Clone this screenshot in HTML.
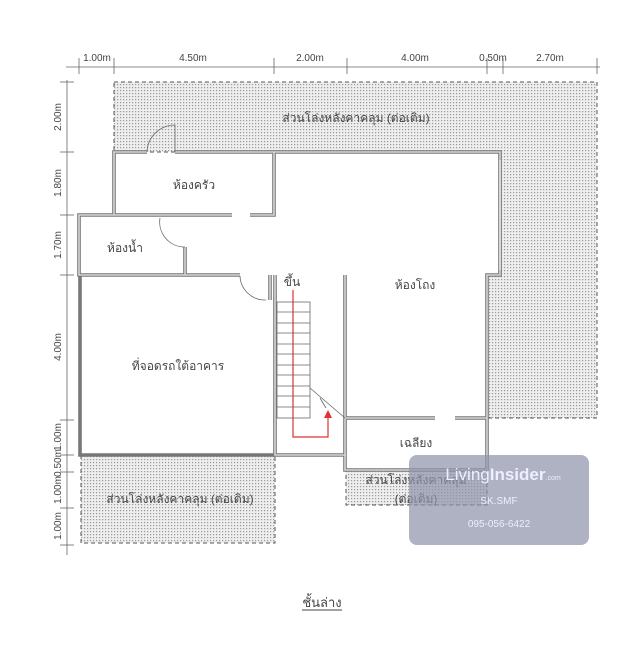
<!DOCTYPE html><html><head><style>body{margin:0;background:#fff}svg{display:block}text{font-family:"Liberation Sans",sans-serif;fill:#444}</style></head><body>
<svg width="639" height="645" viewBox="0 0 639 645" xmlns="http://www.w3.org/2000/svg">
<defs><pattern id="d" width="3" height="3" patternUnits="userSpaceOnUse"><rect width="3" height="3" fill="#eee"/><rect width="1.2" height="1.2" fill="#999"/></pattern></defs>
<g stroke="#666" stroke-width="0.8" fill="none">
<line x1="66" y1="67" x2="600" y2="67"/>
<line x1="79" y1="58" x2="79" y2="74"/><line x1="114" y1="58" x2="114" y2="74"/><line x1="274" y1="58" x2="274" y2="74"/><line x1="347" y1="58" x2="347" y2="74"/><line x1="487" y1="58" x2="487" y2="74"/><line x1="503" y1="58" x2="503" y2="74"/><line x1="597" y1="58" x2="597" y2="74"/>
<line x1="67" y1="80" x2="67" y2="555"/>
<line x1="60" y1="82" x2="74" y2="82"/><line x1="60" y1="152" x2="74" y2="152"/><line x1="60" y1="215" x2="74" y2="215"/><line x1="60" y1="275" x2="74" y2="275"/><line x1="60" y1="420" x2="74" y2="420"/><line x1="60" y1="455" x2="74" y2="455"/><line x1="60" y1="472" x2="74" y2="472"/><line x1="60" y1="508" x2="74" y2="508"/><line x1="60" y1="545" x2="74" y2="545"/>
</g>
<g font-size="10" text-anchor="middle">
<text x="97" y="61">1.00m</text><text x="193" y="61">4.50m</text><text x="310" y="61">2.00m</text><text x="415" y="61">4.00m</text><text x="493" y="61">0.50m</text><text x="550" y="61">2.70m</text>
<text transform="translate(61,117) rotate(-90)">2.00m</text><text transform="translate(61,183) rotate(-90)">1.80m</text><text transform="translate(61,245) rotate(-90)">1.70m</text><text transform="translate(61,347) rotate(-90)">4.00m</text><text transform="translate(61,437) rotate(-90)">1.00m</text><text transform="translate(61,463) rotate(-90)">0.50m</text><text transform="translate(61,490) rotate(-90)">1.00m</text><text transform="translate(61,526) rotate(-90)">1.00m</text>
</g>
<g fill="url(#d)" stroke="#555" stroke-dasharray="4,3" stroke-width="1">
<path d="M114 82H597V418H487V275H500V152H114Z"/>
<rect x="81" y="455" width="194" height="88"/>
<rect x="346" y="470" width="141" height="35"/>
</g>
<g id="w" fill="none">
<g stroke="#777" stroke-width="3.6">
<path d="M147 152H114V215"/><path d="M175 152H500V275H487V418"/>
<path d="M274 152V215H250"/><path d="M232 215H79V275H240"/><path d="M185 247V275"/>
<path d="M80 275V455H275"/><path d="M270 275V300"/><path d="M275 275V455H346"/><path d="M345 275V470H487V418"/>
<path d="M346 418H435"/><path d="M455 418H487"/>
</g>
<g stroke="#d6d6d6" stroke-width="1.6">
<path d="M147 152H114V215"/><path d="M175 152H500V275H487V418"/>
<path d="M274 152V215H250"/><path d="M232 215H79V275H240"/><path d="M185 247V275"/>
<path d="M275 275V455H346"/><path d="M270 275V300"/><path d="M345 275V470H487V418"/>
<path d="M346 418H435"/><path d="M455 418H487"/>
</g>
</g>
<g stroke="#666" stroke-width="0.8" fill="none">
<path d="M147 152A28 28 0 0 1 175 125V152"/><path d="M160 218A25 25 0 0 0 185 247"/><path d="M240 276A25 25 0 0 0 266 300"/>
<rect x="277" y="302" width="33" height="116"/>
<path d="M277 312H310M277 323H310M277 333H310M277 344H310M277 354H310M277 365H310M277 375H310M277 386H310M277 396H310M277 407H310"/>
<path d="M310 388L345 418M320 398L326 408"/>
<line x1="500" y1="160" x2="500" y2="270" stroke="#fff" stroke-width="1"/>
</g>
<g stroke="#d33" stroke-width="1.2" fill="none"><path d="M293 290V437H328V415"/></g>
<path d="M328 410L324 418H332Z" fill="#d33"/>
<g font-size="12" text-anchor="middle" font-family="Liberation Sans,Noto Sans CJK SC,sans-serif">
<text x="356" y="122">ส่วนโล่งหลังคาคลุม (ต่อเติม)</text>
<text x="194" y="189">ห้องครัว</text><text x="125" y="252">ห้องน้ำ</text>
<text x="292" y="286">ขึ้น</text><text x="415" y="289">ห้องโถง</text>
<text x="178" y="370">ที่จอดรถใต้อาคาร</text><text x="416" y="447">เฉลียง</text>
<text x="180" y="503">ส่วนโล่งหลังคาคลุม (ต่อเติม)</text>
<text x="416" y="484">ส่วนโล่งหลังคาคลุม</text><text x="416" y="503">(ต่อเติม)</text>
<text x="322" y="607" font-size="13">ชั้นล่าง</text>
</g>
<line x1="302" y1="610" x2="342" y2="610" stroke="#444"/>
<rect x="409" y="455" width="180" height="90" rx="8" fill="#8f94ab" opacity="0.72"/>
<text x="503" y="480" font-size="17" text-anchor="middle" style="fill:#eef">Living<tspan font-weight="bold">Insider</tspan><tspan font-size="7">.com</tspan></text>
<text x="499" y="504" font-size="10" text-anchor="middle" style="fill:#eef">SK.SMF</text>
<text x="499" y="527" font-size="10" text-anchor="middle" style="fill:#eef">095-056-6422</text>
</svg></body></html>
